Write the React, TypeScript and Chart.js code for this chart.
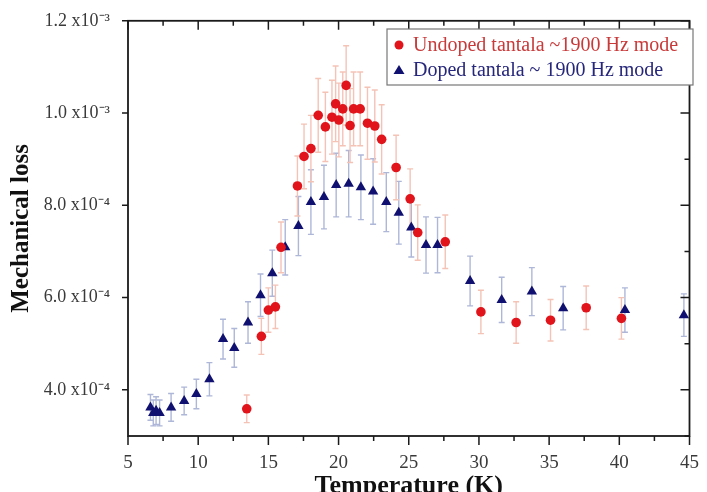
import React, { useEffect, useRef } from "react";
import { Chart, registerables } from "chart.js";

Chart.register(...registerables);

// ---------- data ----------
const UNDOPED_T = [13.46, 14.5, 15.0, 15.5, 15.9, 17.07, 17.54, 18.03, 18.55, 19.06, 19.53, 19.79, 20.02, 20.3, 20.54, 20.82, 21.07, 21.54, 22.06, 22.58, 23.07, 24.1, 25.1, 25.64, 27.6, 30.14, 32.65, 35.1, 37.64, 40.15];
const UNDOPED_LOSS = [3.59e-4, 5.16e-4, 5.73e-4, 5.8e-4, 7.09e-4, 8.42e-4, 9.06e-4, 9.23e-4, 9.95e-4, 9.7e-4, 9.91e-4, 1.02e-3, 9.85e-4, 1.009e-3, 1.06e-3, 9.73e-4, 1.009e-3, 1.009e-3, 9.78e-4, 9.72e-4, 9.43e-4, 8.82e-4, 8.14e-4, 7.41e-4, 7.21e-4, 5.69e-4, 5.46e-4, 5.51e-4, 5.78e-4, 5.55e-4];
const UNDOPED_ERR = [0.3e-4, 0.39e-4, 0.48e-4, 0.47e-4, 0.55e-4, 0.65e-4, 0.7e-4, 0.72e-4, 0.8e-4, 0.75e-4, 0.8e-4, 0.82e-4, 0.8e-4, 0.8e-4, 0.86e-4, 0.8e-4, 0.8e-4, 0.8e-4, 0.78e-4, 0.78e-4, 0.75e-4, 0.7e-4, 0.65e-4, 0.6e-4, 0.58e-4, 0.47e-4, 0.45e-4, 0.45e-4, 0.47e-4, 0.45e-4];

const DOPED_T = [6.6, 6.8, 7.0, 7.25, 8.07, 9.0, 9.87, 10.8, 11.77, 12.57, 13.55, 14.44, 15.28, 16.2, 17.14, 18.03, 18.96, 19.83, 20.72, 21.59, 22.46, 23.4, 24.29, 25.18, 26.23, 27.05, 29.37, 31.62, 33.77, 36.0, 40.4, 44.6];
const DOPED_LOSS = [3.62e-4, 3.5e-4, 3.55e-4, 3.5e-4, 3.62e-4, 3.76e-4, 3.91e-4, 4.23e-4, 5.1e-4, 4.91e-4, 5.46e-4, 6.05e-4, 6.53e-4, 7.09e-4, 7.55e-4, 8.07e-4, 8.18e-4, 8.44e-4, 8.47e-4, 8.39e-4, 8.3e-4, 8.07e-4, 7.84e-4, 7.52e-4, 7.14e-4, 7.14e-4, 6.36e-4, 5.95e-4, 6.13e-4, 5.77e-4, 5.73e-4, 5.62e-4];
const DOPED_ERR = [0.28e-4, 0.28e-4, 0.3e-4, 0.28e-4, 0.3e-4, 0.3e-4, 0.32e-4, 0.36e-4, 0.43e-4, 0.42e-4, 0.45e-4, 0.46e-4, 0.5e-4, 0.6e-4, 0.64e-4, 0.7e-4, 0.69e-4, 0.69e-4, 0.72e-4, 0.7e-4, 0.71e-4, 0.64e-4, 0.68e-4, 0.64e-4, 0.61e-4, 0.6e-4, 0.54e-4, 0.49e-4, 0.52e-4, 0.47e-4, 0.48e-4, 0.46e-4];

const X_TICKS = [5, 10, 15, 20, 25, 30, 35, 40, 45];
const Y_TICKS = [4e-4, 6e-4, 8e-4, 1.0e-3, 1.2e-3];
const Y_TICK_LABELS = ["4.0 x10\u207B\u2074", "6.0 x10\u207B\u2074", "8.0 x10\u207B\u2074", "1.0 x10\u207B\u00B3", "1.2 x10\u207B\u00B3"];
const SERIES_LABELS = ["Undoped tantala ~1900 Hz mode", "Doped tantala ~ 1900 Hz mode"];
const X_TITLE = "Temperature (K)";
const Y_TITLE = "Mechanical loss";

const RED = "#e0141a";
const NAVY = "#0f1070";
const RED_BAR = "#f4c3b6";
const NAVY_BAR = "#aeb7d8";
const SERIF = "'Liberation Serif', 'Times New Roman', serif";

const errorBarPlugin = {
  id: "errorBars",
  beforeDatasetsDraw(chart: any) {
    const ctx = chart.ctx;
    const xs = chart.scales.x;
    const ys = chart.scales.y;
    ctx.save();
    ctx.beginPath();
    ctx.rect(chart.chartArea.left, chart.chartArea.top, chart.chartArea.right - chart.chartArea.left, chart.chartArea.bottom - chart.chartArea.top);
    ctx.clip();
    const order = [1, 0];
    for (const di of order) {
      const ds = chart.data.datasets[di];
      ctx.strokeStyle = ds.errorColor;
      ctx.lineWidth = 1.4;
      ds.data.forEach((p: any, j: number) => {
        const e = ds.errors[j];
        const x = xs.getPixelForValue(p.x);
        const y1 = ys.getPixelForValue(p.y + e);
        const y2 = ys.getPixelForValue(p.y - e);
        ctx.beginPath();
        ctx.moveTo(x, y1);
        ctx.lineTo(x, y2);
        ctx.moveTo(x - 3, y1);
        ctx.lineTo(x + 3, y1);
        ctx.moveTo(x - 3, y2);
        ctx.lineTo(x + 3, y2);
        ctx.stroke();
      });
    }
    ctx.restore();
  },
};

const framePlugin = {
  id: "frame",
  afterDraw(chart: any) {
    const ctx = chart.ctx;
    const { left, right, top, bottom } = chart.chartArea;
    const xs = chart.scales.x;
    const ys = chart.scales.y;
    ctx.save();
    ctx.strokeStyle = "#1a1a1a";
    ctx.lineWidth = 1.8;
    ctx.strokeRect(left, top, right - left, bottom - top);
    ctx.lineWidth = 1.5;
    ctx.beginPath();
    for (let v = xs.min; v <= xs.max + 1e-9; v += 2.5) {
      const major = Math.abs(v / 5 - Math.round(v / 5)) < 1e-6;
      const len = major ? 9 : 5;
      const x = xs.getPixelForValue(v);
      ctx.moveTo(x, bottom);
      ctx.lineTo(x, bottom + len);
      ctx.moveTo(x, top);
      ctx.lineTo(x, top + len);
    }
    for (let k = 3; k <= 12; k++) {
      const v = k * 1e-4;
      const major = k % 2 === 0;
      const y = ys.getPixelForValue(v);
      if (major) {
        ctx.moveTo(left, y);
        ctx.lineTo(left - 6, y);
      }
      ctx.moveTo(right, y);
      ctx.lineTo(right - (major ? 9 : 5), y);
    }
    ctx.stroke();

    // legend box
    const bx = 387, by = 29, bw = 306, bh = 56;
    ctx.fillStyle = "#ffffff";
    ctx.fillRect(bx, by, bw, bh);
    ctx.strokeStyle = "#777777";
    ctx.lineWidth = 1.2;
    ctx.strokeRect(bx, by, bw, bh);
    ctx.font = `20px ${SERIF}`;
    ctx.textBaseline = "middle";
    ctx.textAlign = "left";
    // undoped
    ctx.fillStyle = RED;
    ctx.beginPath();
    ctx.arc(399, 45, 4.5, 0, Math.PI * 2);
    ctx.fill();
    ctx.fillStyle = "#c83a3a";
    ctx.fillText(SERIES_LABELS[0], 413, 46);
    // doped
    ctx.fillStyle = NAVY;
    ctx.beginPath();
    ctx.moveTo(399, 65);
    ctx.lineTo(404.5, 74);
    ctx.lineTo(393.5, 74);
    ctx.closePath();
    ctx.fill();
    ctx.fillStyle = "#26267a";
    ctx.fillText(SERIES_LABELS[1], 413, 71);
    ctx.restore();
  },
};

export default function App() {
  const ref = useRef<HTMLCanvasElement | null>(null);
  useEffect(() => {
    document.body.style.margin = "0";
    const canvas = ref.current;
    if (!canvas) return;
    const chart = new Chart(canvas, {
      type: "scatter",
      data: {
        datasets: [
          {
            label: SERIES_LABELS[0],
            data: UNDOPED_T.map((t, i) => ({ x: t, y: UNDOPED_LOSS[i] })),
            errors: UNDOPED_ERR,
            errorColor: RED_BAR,
            pointStyle: "circle",
            pointRadius: 4.8,
            backgroundColor: RED,
            borderColor: RED,
            borderWidth: 0,
          } as any,
          {
            label: SERIES_LABELS[1],
            data: DOPED_T.map((t, i) => ({ x: t, y: DOPED_LOSS[i] })),
            errors: DOPED_ERR,
            errorColor: NAVY_BAR,
            pointStyle: "triangle",
            pointRadius: 6,
            backgroundColor: NAVY,
            borderColor: NAVY,
            borderWidth: 0,
          } as any,
        ],
      },
      options: {
        responsive: false,
        animation: false,
        events: [],
        layout: { padding: { top: 17, right: 7, left: 0, bottom: 0 } },
        plugins: { legend: { display: false }, tooltip: { enabled: false } },
        scales: {
          x: {
            type: "linear",
            min: 5,
            max: 45,
            afterBuildTicks: (s: any) => {
              s.ticks = X_TICKS.map((v) => ({ value: v }));
            },
            afterFit: (s: any) => {
              s.height = 56;
            },
            grid: { display: false },
            border: { display: false },
            ticks: {
              padding: 8,
              color: "#3a3a3a",
              font: { family: SERIF, size: 19 },
              maxRotation: 0,
              callback: (v: any) => String(v),
            },
            title: {
              display: true,
              text: X_TITLE,
              color: "#111",
              font: { family: SERIF, size: 26, weight: "bold", lineHeight: 1 },
              padding: { top: 0, bottom: -7 },
            },
          },
          y: {
            type: "linear",
            min: 3e-4,
            max: 1.2e-3,
            afterBuildTicks: (s: any) => {
              s.ticks = Y_TICKS.map((v) => ({ value: v }));
            },
            afterFit: (s: any) => {
              s.width = 128;
            },
            grid: { display: false },
            border: { display: false },
            ticks: {
              padding: 10,
              color: "#3a3a3a",
              font: { family: SERIF, size: 18 },
              callback: (_v: any, i: number) => Y_TICK_LABELS[i],
            },
            title: {
              display: true,
              text: Y_TITLE,
              color: "#111",
              font: { family: SERIF, size: 25, weight: "bold", lineHeight: 1.2 },
              padding: { top: 7, bottom: 0 },
            },
          },
        },
      } as any,
      plugins: [errorBarPlugin, framePlugin],
    });
    return () => chart.destroy();
  }, []);
  return (
    <div style={{ width: 707, height: 492, background: "#fff" }}>
      <canvas ref={ref} width={707} height={492} style={{ display: "block" }} />
    </div>
  );
}
